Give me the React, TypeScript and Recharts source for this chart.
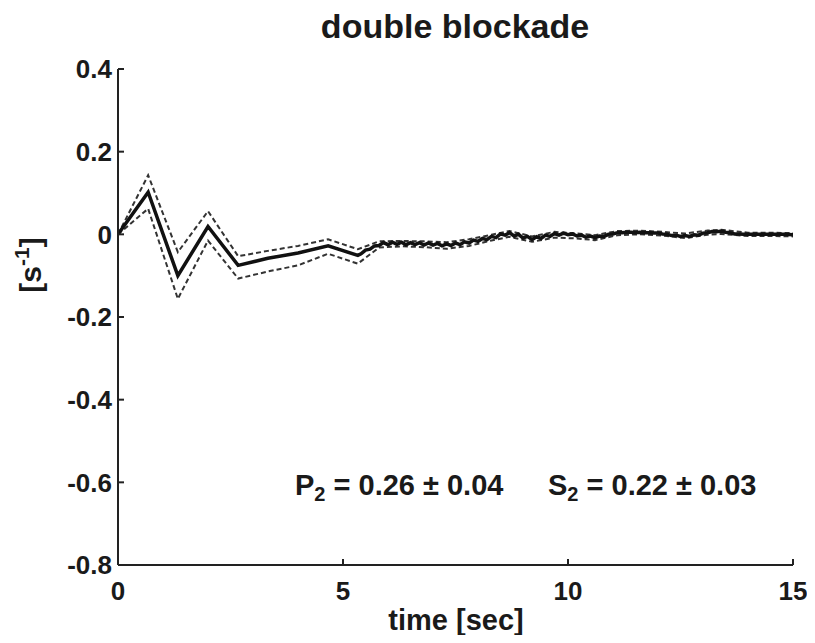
import React from "react";
import { LineChart, Line, XAxis, YAxis, Customized } from "recharts";

// ---- data ----
const meanTimes = [
  0, 0.67, 1.33, 2.0, 2.67, 3.33, 4.0, 4.67, 5.33,
  5.4, 5.5, 5.6, 5.7, 5.8, 5.9, 6.0, 6.1, 6.2, 6.3, 6.4, 6.5, 6.6, 6.7, 6.8, 6.9,
  7.0, 7.1, 7.2, 7.3, 7.4, 7.5, 7.6, 7.7, 7.8, 7.9, 8.0, 8.1, 8.2, 8.3, 8.4, 8.5,
  8.6, 8.7, 8.8, 8.9, 9.0, 9.1, 9.2, 9.3, 9.4, 9.5, 9.6, 9.7, 9.8, 9.9, 10.0,
  10.1, 10.2, 10.3, 10.4, 10.5, 10.6, 10.7, 10.8, 10.9, 11.0, 11.1, 11.2, 11.3,
  11.4, 11.5, 11.6, 11.7, 11.8, 11.9, 12.0, 12.1, 12.2, 12.3, 12.4, 12.5, 12.6,
  12.7, 12.8, 12.9, 13.0, 13.1, 13.2, 13.3, 13.4, 13.5, 13.6, 13.7, 13.8, 13.9,
  14.0, 14.2, 14.4, 14.6, 14.8, 15.0,
];
const meanValues = [
  0, 0.102, -0.1, 0.019, -0.075, -0.058, -0.045, -0.028, -0.051,
  -0.047, -0.038, -0.036, -0.028, -0.027, -0.02, -0.025, -0.019, -0.024, -0.019, -0.025, -0.02, -0.025, -0.02, -0.026, -0.021,
  -0.026, -0.022, -0.028, -0.023, -0.027, -0.021, -0.025, -0.018, -0.021, -0.014, -0.017, -0.01, -0.013, -0.005, -0.008, 0.001,
  -0.002, 0.004, -0.004, 0.0, -0.009, -0.005, -0.013, -0.006, -0.01, -0.002, -0.005, 0.002, -0.002, 0.003, -0.001,
  0.001, -0.004, -0.002, -0.007, -0.004, -0.008, -0.004, -0.005, 0.0, 0.001, 0.004, 0.004, 0.005,
  0.005, 0.004, 0.005, 0.004, 0.004, 0.003, 0.003, 0.001, 0.0, -0.003, -0.002, -0.005, -0.003,
  -0.005, -0.001, -0.002, 0.003, 0.004, 0.007, 0.006, 0.008, 0.005, 0.004, 0.001, 0.001, 0.0,
  0.0, 0.0, 0.0, 0.0, 0.0, -0.001,
];

const boundTimes = [
  0, 0.67, 1.33, 2.0, 2.67, 3.33, 4.0, 4.67, 5.33, 5.8, 6.3, 6.8, 7.3, 7.8, 8.3,
  8.7, 9.2, 9.7, 10.2, 10.6, 11.1, 11.6, 12.1, 12.6, 13.1, 13.4, 14.0, 14.5, 15.0,
];
const upperValues = [
  0, 0.143, -0.043, 0.056, -0.053, -0.04, -0.028, -0.012, -0.036, -0.017, -0.016, -0.017, -0.019, -0.012, -0.001,
  0.008, -0.005, 0.006, 0.002, -0.002, 0.008, 0.009, 0.006, 0.002, 0.009, 0.011, 0.004, 0.004, 0.003,
];
const lowerValues = [
  0, 0.062, -0.156, -0.015, -0.107, -0.09, -0.075, -0.047, -0.071, -0.032, -0.029, -0.031, -0.035, -0.028, -0.015,
  -0.006, -0.018, -0.008, -0.01, -0.014, -0.002, 0.0, -0.003, -0.009, -0.001, 0.001, -0.004, -0.004, -0.005,
];

const xTicks = [0, 5, 10, 15];
const yTicks = [-0.8, -0.6, -0.4, -0.2, 0, 0.2, 0.4];

const titleText = "double blockade";
const xLabelText = "time [sec]";

const meanData = meanTimes.map((t, i) => ({ t, v: meanValues[i] }));
const upperData = boundTimes.map((t, i) => ({ t, v: upperValues[i] }));
const lowerData = boundTimes.map((t, i) => ({ t, v: lowerValues[i] }));

const FONT = "'Liberation Sans', Arial, Helvetica, sans-serif";
const INK = "#1a1a1a";

const Texts = () => (
  <g fontFamily={FONT} fontWeight="bold" fill={INK}>
    <text x={455} y={38} fontSize={34} textAnchor="middle">{titleText}</text>
    <text x={456} y={630} fontSize={29} textAnchor="middle">{xLabelText}</text>
    <text x={41} y={265} fontSize={30} textAnchor="middle" transform="rotate(-90 41 265)">
      [s<tspan fontSize={21} dy={-12}>-1</tspan><tspan dy={12}>]</tspan>
    </text>
    <text x={295} y={495} fontSize={29}>
      P<tspan fontSize={20} dy={6}>2</tspan><tspan dy={-6}> = 0.26 ± 0.04</tspan>
    </text>
    <text x={548} y={495} fontSize={29}>
      S<tspan fontSize={20} dy={6}>2</tspan><tspan dy={-6}> = 0.22 ± 0.03</tspan>
    </text>
  </g>
);

const tickStyle = { fontFamily: FONT, fontWeight: "bold" as const, fontSize: 26, fill: INK };

export default function App() {
  return (
    <div style={{ margin: -8 }}>
      <LineChart
        width={815}
        height={643}
        margin={{ top: 69, right: 22, bottom: 18, left: 0 }}
        style={{ background: "#fff" }}
      >
        <XAxis
          type="number"
          dataKey="t"
          domain={[0, 15]}
          ticks={xTicks}
          allowDataOverflow
          height={60}
          axisLine={{ stroke: "#222", strokeWidth: 2 }}
          tickLine={{ stroke: "#222", strokeWidth: 2 }}
          tickSize={-6}
          tickMargin={23}
          tick={tickStyle}
          interval={0}
        />
        <YAxis
          type="number"
          dataKey="v"
          domain={[-0.8, 0.4]}
          ticks={yTicks}
          allowDataOverflow
          width={118}
          axisLine={{ stroke: "#222", strokeWidth: 2 }}
          tickLine={{ stroke: "#222", strokeWidth: 2 }}
          tickSize={-6}
          tickMargin={12}
          tick={tickStyle}
          interval={0}
          tickFormatter={(v: number) => (v === 0 ? "0" : String(v))}
        />
        <Line
          data={upperData}
          dataKey="v"
          type="linear"
          stroke="#333"
          strokeWidth={2}
          strokeDasharray="5 3"
          dot={false}
          isAnimationActive={false}
        />
        <Line
          data={lowerData}
          dataKey="v"
          type="linear"
          stroke="#333"
          strokeWidth={2}
          strokeDasharray="5 3"
          dot={false}
          isAnimationActive={false}
        />
        <Line
          data={meanData}
          dataKey="v"
          type="linear"
          stroke="#111"
          strokeWidth={3.5}
          dot={false}
          isAnimationActive={false}
        />
        <Customized component={Texts} />
      </LineChart>
    </div>
  );
}
